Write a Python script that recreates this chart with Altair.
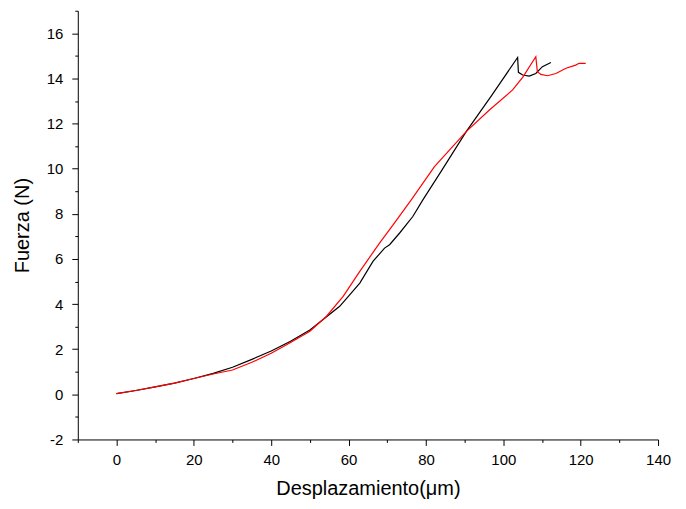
import altair as alt
import pandas as pd

# Black curve (displacement in µm, force in N)
black_x = [0, 5, 10, 15, 20, 25, 30, 35, 40, 45, 50, 53.9, 57.7, 60, 62.9, 66.3, 69.3, 70.6,
           73.2, 76.6, 79.2, 84, 90.4, 97, 103.7, 103.9, 105, 106.7, 108.4, 110.1, 112.3]
black_y = [0.03, 0.17, 0.33, 0.5, 0.7, 0.93, 1.2, 1.55, 1.92, 2.35, 2.85, 3.38, 3.9, 4.35, 4.93,
           5.89, 6.48, 6.63, 7.15, 7.88, 8.62, 9.9, 11.64, 13.25, 14.93, 14.27, 14.15, 14.1,
           14.22, 14.52, 14.71]

# Red curve
red_x = [0, 5, 10, 15, 20, 25, 30, 35, 40, 45, 50, 54.3, 58.6, 62.9, 68, 71.5, 76.2, 82.2,
         90.4, 96.4, 102.4, 105, 108.4, 108.8, 109.7, 111.4, 113.6, 116.2, 118.7, 119.6, 121.3]
red_y = [0.03, 0.17, 0.33, 0.5, 0.7, 0.9, 1.08, 1.42, 1.82, 2.3, 2.8, 3.46, 4.34, 5.45, 6.7,
         7.51, 8.62, 10.09, 11.64, 12.6, 13.49, 14.05, 14.96, 14.3, 14.18, 14.12, 14.22, 14.45,
         14.59, 14.67, 14.67]

x_major = [0, 20, 40, 60, 80, 100, 120, 140]
x_minor = [-10, 10, 30, 50, 70, 90, 110, 130]
y_major = [-2, 0, 2, 4, 6, 8, 10, 12, 14, 16]
y_minor = [-1, 1, 3, 5, 7, 9, 11, 13, 15, 17]

rows = []
for i, (a, b) in enumerate(zip(black_x, black_y)):
    rows.append({"x": a, "y": b, "s": "negro", "i": i})
for i, (a, b) in enumerate(zip(red_x, red_y)):
    rows.append({"x": a, "y": b, "s": "rojo", "i": i})
df = pd.DataFrame(rows)

FONT = "Liberation Sans"
xs = alt.Scale(domain=[-10, 140], nice=False, zero=False)
ys = alt.Scale(domain=[-2, 17], nice=False, zero=False)
col = alt.Scale(domain=["negro", "rojo"], range=["#000000", "#ff0000"])

common_axis = dict(grid=False, domainColor="black", tickColor="black", domainWidth=1,
                   tickWidth=1, labelFont=FONT, titleFont=FONT, labelColor="black",
                   titleColor="black", labelFontSize=15, titleFontSize=20,
                   titleFontWeight="normal", labelFlush=False, labelOverlap=False,
                   labelExpr="toString(datum.value)")

major = alt.Chart(df).mark_line(strokeWidth=1.2).encode(
    x=alt.X("x:Q", scale=xs, title="Desplazamiento(\u03bcm)",
            axis=alt.Axis(values=x_major, tickSize=6, labelPadding=7, titlePadding=11,
                          orient="bottom", **common_axis)),
    y=alt.Y("y:Q", scale=ys, title="Fuerza (N)",
            axis=alt.Axis(values=y_major, tickSize=6, labelPadding=9, titlePadding=14,
                          orient="left", **common_axis)),
    color=alt.Color("s:N", scale=col, legend=None),
    order="i:Q",
)

minor = alt.Chart(df).mark_line(opacity=0).encode(
    x=alt.X("x:Q", scale=xs, title=None,
            axis=alt.Axis(values=x_minor, tickSize=3, labels=False, orient="bottom",
                          grid=False, domain=False, tickColor="black")),
    y=alt.Y("y:Q", scale=ys, title=None,
            axis=alt.Axis(values=y_minor, tickSize=3, labels=False, orient="left",
                          grid=False, domain=False, tickColor="black")),
    detail="s:N",
)

chart = alt.layer(minor, major).resolve_axis(x="independent", y="independent").properties(
    width=582, height=430,
    autosize=alt.AutoSizeParams(type="none"),
    padding={"left": 70, "top": 2, "right": 20, "bottom": 68},
).configure_view(stroke=None)

chart.save("out.html", embed_options={"renderer": "svg", "actions": False})
